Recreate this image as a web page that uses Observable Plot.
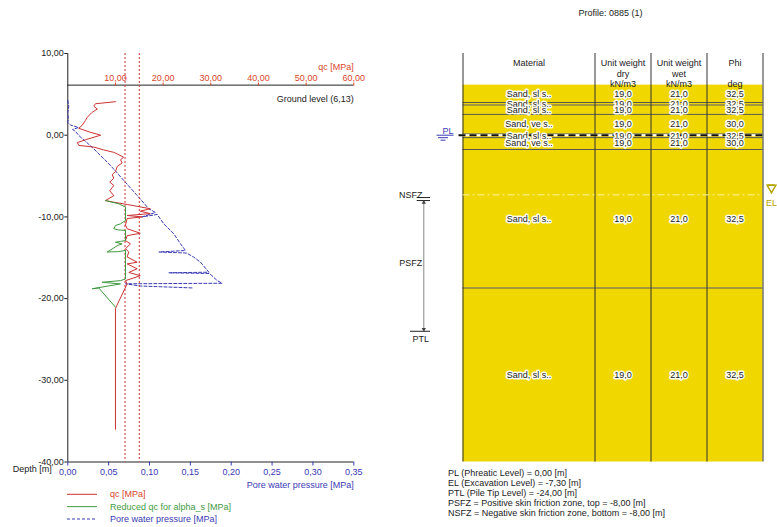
<!DOCTYPE html>
<html><head><meta charset="utf-8">
<script src="https://cdn.jsdelivr.net/npm/d3@7"></script>
<script src="https://cdn.jsdelivr.net/npm/@observablehq/plot@0.6"></script>
<style>
body{margin:0;background:#fff;font-family:"Liberation Sans",Arial,sans-serif;}
#wrap{position:relative;width:777px;height:527px;overflow:hidden;background:#fff;}
#wrap > svg{position:absolute;left:0;top:0;}
.t{position:absolute;font-size:9px;line-height:11px;color:#222;white-space:nowrap;font-family:"Liberation Sans",Arial,sans-serif;}
</style></head><body><div id="wrap"></div>
<script>
// ---------------- data ----------------
const profileName = "Profile: 0885 (1)";
const groundLevel = 6.13;
const phreaticLevel = 0.0;
const excavationLevel = -7.3;
const pileTipLevel = -24.0;
const psfzTop = -8.0;
const nsfzBottom = -8.0;

const depthTicks = [10, 0, -10, -20, -30, -40];
const poreTicks = [0, 0.05, 0.10, 0.15, 0.20, 0.25, 0.30, 0.35];
const qcTicks = [10, 20, 30, 40, 50, 60];
const qcLimits = [12, 15];

// qc [MPa] vs depth [m]
const qcDepth = [4.1,3.85,3.55,3.2,2.8,2.2,1.8,1.2,0.85,0.4,0.0,-0.5,-0.9,-1.25,-1.45,-1.8,-2.1,-2.3,-2.7,-3.0,-3.4,-3.8,-4.45,-4.85,-5.25,-5.75,-6.15,-6.8,-7.4,-8.0,-8.2,-8.48,-9.0,-9.3,-9.6,-9.83,-10.0,-10.2,-11.0,-11.45,-12.0,-12.3,-12.9,-13.3,-13.9,-14.3,-14.9,-15.55,-15.75,-16.35,-16.8,-17.2,-17.8,-18.2,-21.2,-36.0];
const qcValue = [10.0,5.8,5.45,6.2,5.1,4.1,3.7,3.0,2.3,4.5,6.9,4.0,2.0,2.3,5.45,7.5,9.65,10.4,11.7,11.05,11.4,10.4,10.0,9.3,9.65,8.8,9.65,8.8,9.65,7.9,9.65,12.45,17.3,15.2,17.3,12.45,15.6,12.45,12.1,12.45,15.2,12.45,12.1,13.15,12.1,12.8,12.45,14.55,12.45,14.55,12.8,15.2,12.1,12.45,10.0,10.0];

// reduced qc for alpha_s [MPa]
const redDepth = [-8.0,-8.4,-8.8,-10.45,-10.85,-11.05,-11.45,-11.6,-11.65,-12.9,-13.0,-13.1,-13.3,-13.5,-13.8,-14.3,-14.25,-14.1,-17.6,-17.8,-18.0,-18.2,-18.8,-18.7,-21.05];
const redValue = [7.9,10.7,12.1,12.1,11.05,10.0,9.65,10.7,12.1,12.1,11.05,10.0,11.4,10.4,9.65,8.26,10.7,12.1,12.1,11.05,7.2,11.05,5.1,6.5,10.0];

// pore water pressure [MPa]
const poreDepth = [4.25,3.5,2.78,2.04,1.55,1.25,0.94,0.7,0.45,-0.04,-1.66,-3.71,-5.54,-7.38,-9.0,-9.46,-10.0,-9.7,-10.85,-12.07,-13.29,-14.11,-14.3,-14.42,-14.93,-15.54,-16.77,-16.84,-16.93,-17.79,-18.12,-18.19,-18.46,-18.7];
const poreValue = [0.0,0.0012,0.0,0.0006,0.0,0.0033,0.0131,0.0058,0.0094,0.0135,0.0318,0.0523,0.0685,0.0849,0.0991,0.1073,0.091,0.1094,0.1175,0.1297,0.1379,0.144,0.1114,0.1453,0.1542,0.1624,0.1726,0.1236,0.1734,0.1828,0.1889,0.0706,0.089,0.1542];

// soil table
const layerTop = [6.13, 4.0, 3.7, 2.55, 0.15, -0.3, -1.75, -18.7];
const layerBottom = [4.0, 3.7, 2.55, 0.15, -0.3, -1.75, -18.7, -40.0];
const layerMaterial = ["Sand, sl s..","Sand, sl s..","Sand, sl s..","Sand, ve s..","Sand, sl s..","Sand, ve s..","Sand, sl s..","Sand, sl s.."];
const layerDry = [19.0,19.0,19.0,19.0,19.0,19.0,19.0,19.0];
const layerWet = [21.0,21.0,21.0,21.0,21.0,21.0,21.0,21.0];
const layerPhi = [32.5,32.5,32.5,30.0,32.5,30.0,32.5,32.5];
const headerLines = [["Material","",""],["Unit weight","dry","kN/m3"],["Unit weight","wet","kN/m3"],["Phi","","deg"]];

// ---------------- layout ----------------
const W = 777, H = 527;
const FONT = '"Liberation Sans", Arial, sans-serif';
const RED = "#cc3333", QCLAB = "#d8452a", GREEN = "#3f9a3f", BLUE = "#3a3ab4", YELLOW = "#f0d700", ELC = "#b4a400";
const fmt2 = d => d3.format(".2f")(d).replace("−","-").replace(".", ",");
const fmt1 = d => d3.format(".1f")(d).replace("−","-").replace(".", ",");
const style = {background: "transparent", fontFamily: FONT, fontSize: "9px", color: "#222", overflow: "visible"};
const top0 = 53, bot0 = 461.5;

const pore = poreDepth.map((d, i) => ({d, u: poreValue[i]}));
const qc = qcDepth.map((d, i) => ({d, v: qcValue[i]}));
const red = redDepth.map((d, i) => ({d, v: redValue[i]}));

const wrap = document.getElementById("wrap");

// left chart: pore pressure scale (bottom axis) & depth
const base = Plot.plot({
  width: W, height: H, marginLeft: 67.3, marginRight: W - 353.3, marginTop: top0, marginBottom: H - bot0,
  style,
  x: {domain: [0, 0.35]}, y: {domain: [-40, 10]},
  marks: [
    Plot.ruleX([0], {stroke: "#222"}),
    Plot.ruleY([-40], {stroke: "#222"}),
    Plot.axisY(depthTicks, {anchor: "left", tickFormat: fmt2, tickSize: 3, tickPadding: 1, color: "#222", label: null}),
    Plot.axisX(poreTicks, {anchor: "bottom", tickFormat: fmt2, tickSize: 4, tickPadding: 3, color: BLUE, label: null}),
    Plot.line(pore, {x: "u", y: "d", stroke: BLUE, strokeWidth: 1, strokeDasharray: "3,2"}),
    Plot.text(["Depth [m]"], {frameAnchor: "bottom-left", dx: -55, dy: 10, textAnchor: "start", fill: "#222"}),
    Plot.text(["Pore water pressure [MPa]"], {frameAnchor: "bottom-right", dy: 26, textAnchor: "end", fill: BLUE})
  ]
});
wrap.appendChild(base);

// left chart overlay: qc scale (top axis at ground level)
const yG = base.scale("y").apply(groundLevel);
const qcPlot = Plot.plot({
  width: W, height: H, marginLeft: 67.3, marginRight: W - 353.3, marginTop: yG, marginBottom: H - bot0,
  style,
  x: {domain: [0, 60]}, y: {domain: [-40, groundLevel], axis: null},
  marks: [
    Plot.ruleY([groundLevel], {stroke: "#222"}),
    Plot.axisX(qcTicks, {anchor: "top", tickFormat: fmt2, tickSize: 3, tickPadding: 1, color: QCLAB, label: null}),
    Plot.ruleX(qcLimits, {y1: 10, y2: -40, stroke: RED, strokeWidth: 1, strokeDasharray: "2,2"}),
    Plot.line(qc, {x: "v", y: "d", stroke: RED, strokeWidth: 1}),
    Plot.line(red, {x: "v", y: "d", stroke: GREEN, strokeWidth: 1}),
    Plot.text(["qc [MPa]"], {frameAnchor: "top-right", dy: -22, textAnchor: "end", fill: QCLAB}),
    Plot.text([`Ground level (${fmt2(groundLevel)})`], {frameAnchor: "top-right", dy: 10, textAnchor: "end", fill: "#222"})
  ]
});
wrap.appendChild(qcPlot);

// right: soil table
const colWidths = [132, 56, 56, 56];
const colEdges = [0, ...d3.cumsum(colWidths)];
const colCenter = colWidths.map((w, i) => colEdges[i] + w / 2);
const tW = colEdges[colEdges.length - 1];
const layers = layerTop.map((t, i) => ({top: t, bottom: layerBottom[i], mid: (t + layerBottom[i]) / 2,
  material: layerMaterial[i], dry: layerDry[i], wet: layerWet[i], phi: layerPhi[i]}));
const header = headerLines.flatMap((lines, c) => lines.map((s, r) => ({c, r, s}))).filter(d => d.s);
const halo = {stroke: "#fffff4", strokeWidth: 3, fill: "#222"};
const headerMarks = [0, 1, 2].map(r => Plot.text(header.filter(d => d.r === r),
  {x: d => colCenter[d.c], frameAnchor: "top", dy: 6 + r * 10.8, text: "s", fill: "#222"}));

const table = Plot.plot({
  width: W, height: H, marginLeft: 462.5, marginRight: W - 462.5 - tW, marginTop: top0, marginBottom: H - bot0,
  style,
  x: {domain: [0, tW], axis: null}, y: {domain: [-40, 10], axis: null},
  marks: [
    Plot.rect(layers, {x1: 0, x2: tW, y1: "bottom", y2: "top", fill: YELLOW}),
    Plot.ruleY(layers.slice(0, -1), {y: "bottom", x1: 0, x2: tW, stroke: "#555"}),
    Plot.ruleX(colEdges, {stroke: "#333"}),
    ...headerMarks,
    // excavation level
    Plot.ruleY([excavationLevel], {x1: 0, x2: tW, stroke: "#fff6a0", strokeWidth: 1, strokeDasharray: "7,3,2,3"}),
    // phreatic level
    Plot.ruleY([phreaticLevel], {x1: -4, x2: tW, stroke: "#fff", strokeWidth: 2}),
    Plot.ruleY([phreaticLevel], {x1: -4, x2: tW, stroke: "#111", strokeWidth: 2, strokeDasharray: "7,4"}),
    Plot.text(layers, {x: colCenter[0], y: "mid", text: "material", ...halo}),
    Plot.text(layers, {x: colCenter[1], y: "mid", text: d => fmt1(d.dry), ...halo}),
    Plot.text(layers, {x: colCenter[2], y: "mid", text: d => fmt1(d.wet), ...halo}),
    Plot.text(layers, {x: colCenter[3], y: "mid", text: d => fmt1(d.phi), ...halo}),
    // PL symbol
    Plot.text(["PL"], {x: -15, y: phreaticLevel, dy: -4, fill: BLUE}),
    Plot.ruleY([phreaticLevel], {x1: -26, x2: -9, stroke: BLUE}),
    Plot.ruleY([phreaticLevel], {x1: -24.5, x2: -14.5, stroke: BLUE, dy: 2.5}),
    Plot.ruleY([phreaticLevel], {x1: -22, x2: -17, stroke: BLUE, dy: 5}),
    // EL symbol
    Plot.dot([excavationLevel], {x: tW + 8.5, y: d => d, symbol: "triangle", rotate: 180, r: 3.2, stroke: ELC, fill: "none", dy: -7}),
    Plot.ruleY([excavationLevel], {x1: tW + 5, x2: tW + 12, stroke: ELC, dy: -10}),
    Plot.text(["EL"], {x: tW + 8.5, y: excavationLevel, dy: 8, fill: ELC}),
    // skin friction zones
    Plot.ruleX([-39.2], {y1: nsfzBottom, y2: pileTipLevel, stroke: "#888"}),
    Plot.ruleY([nsfzBottom], {x1: -45.8, x2: -32.5, stroke: "#222", dy: -3}),
    Plot.ruleY([nsfzBottom], {x1: -45.8, x2: -32.5, stroke: "#222"}),
    Plot.ruleY([pileTipLevel], {x1: -52.5, x2: -32.5, stroke: "#222"}),
    Plot.dot([nsfzBottom], {x: -39.2, y: d => d, symbol: "triangle", r: 1.6, fill: "#444", dy: 2}),
    Plot.dot([pileTipLevel], {x: -39.2, y: d => d, symbol: "triangle", rotate: 180, r: 1.6, fill: "#444", dy: -2}),
    Plot.text(["NSFZ"], {x: -40.5, y: nsfzBottom, dy: -5, textAnchor: "end", fill: "#222"}),
    Plot.text(["PSFZ"], {x: -40.8, y: (psfzTop + pileTipLevel) / 2, dy: -2.5, textAnchor: "end", fill: "#222"}),
    Plot.text(["PTL"], {x: -42.2, y: pileTipLevel, dy: 8, fill: "#222"})
  ]
});
wrap.appendChild(table);

// legend
const legendItems = [["qc [MPa]", RED, null], ["Reduced qc for alpha_s [MPa]", GREEN, null], ["Pore water pressure [MPa]", BLUE, "3,2"]];
const lg = d3.select(wrap).append("svg").attr("width", 300).attr("height", 40)
  .style("position", "absolute").style("left", "0px").style("top", "488px")
  .style("font-family", FONT).style("font-size", "9px");
legendItems.forEach(([label, col, dash], i) => {
  const y = 6.3 + i * 12.35;
  lg.append("line").attr("x1", 67).attr("x2", 97).attr("y1", y).attr("y2", y).attr("stroke", col).attr("stroke-dasharray", dash);
  lg.append("text").attr("x", 110).attr("y", y).attr("dy", "0.32em").attr("fill", col === RED ? QCLAB : col).text(label);
});

// title
const title = document.createElement("div");
title.className = "t";
title.style.left = "610.5px"; title.style.top = "8px"; title.style.transform = "translateX(-50%)";
title.textContent = profileName;
wrap.appendChild(title);

// notes
const notes = [
  `PL (Phreatic Level) = ${fmt2(phreaticLevel)} [m]`,
  `EL (Excavation Level) = ${fmt2(excavationLevel)} [m]`,
  `PTL (Pile Tip Level) = ${fmt2(pileTipLevel)} [m]`,
  `PSFZ = Positive skin friction zone, top = ${fmt2(psfzTop)} [m]`,
  `NSFZ = Negative skin friction zone, bottom = ${fmt2(nsfzBottom)} [m]`
];
const nd = document.createElement("div");
nd.className = "t";
nd.style.left = "448px"; nd.style.top = "467.5px"; nd.style.lineHeight = "10.2px";
nd.innerHTML = notes.map(s => s.replace(/&/g, "&amp;")).join("<br>");
wrap.appendChild(nd);
</script></body></html>
